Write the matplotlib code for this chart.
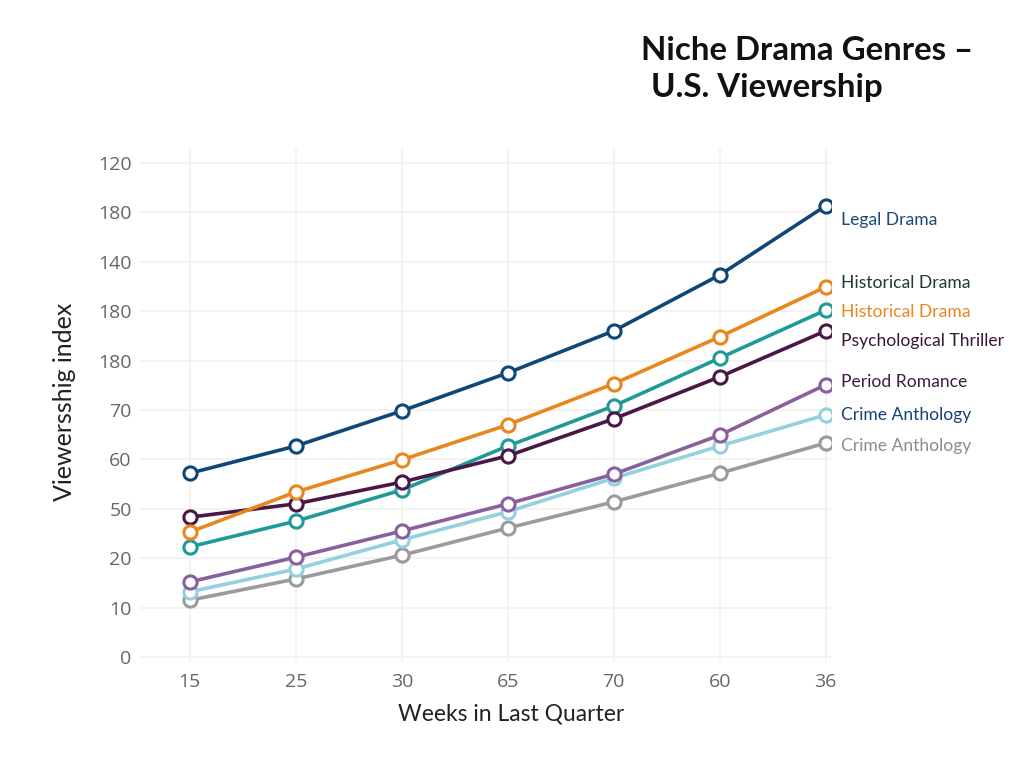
import matplotlib
matplotlib.use("Agg")
import matplotlib.pyplot as plt

# ---- data ----
x_labels = ["15", "25", "30", "65", "70", "60", "36"]
y_labels = ["0", "10", "20", "50", "60", "70", "180", "180", "140", "180", "120"]

legal_drama = [37.2, 42.7, 49.8, 57.5, 66.0, 77.3, 91.3]
historical_orange = [25.3, 33.4, 39.9, 47.0, 55.3, 64.8, 74.9]
historical_teal = [22.3, 27.5, 33.8, 42.7, 50.8, 60.5, 70.2]
psych_thriller = [28.3, 31.0, 35.4, 40.7, 48.2, 56.7, 66.0]
period_romance = [15.2, 20.2, 25.5, 31.0, 37.0, 44.9, 55.1]
crime_light = [13.2, 17.8, 23.7, 29.4, 36.2, 42.7, 49.0]
crime_gray = [11.5, 15.8, 20.6, 26.1, 31.4, 37.2, 43.3]

series = [
    (crime_gray, "#9b9b9b"),
    (crime_light, "#93d1de"),
    (period_romance, "#8a5f9e"),
    (historical_teal, "#1f9a96"),
    (psych_thriller, "#4b1747"),
    (historical_orange, "#e9871f"),
    (legal_drama, "#0f4878"),
]

labels = [
    ("Legal Drama", "#1b4878", 220),
    ("Historical Drama", "#1d3b2f", 283),
    ("Historical Drama", "#e9871f", 312),
    ("Psychological Thriller", "#3b1637", 341),
    ("Period Romance", "#3e1c44", 382),
    ("Crime Anthology", "#17407c", 415),
    ("Crime Anthology", "#8c8c8c", 446),
]

fig = plt.figure(figsize=(10.24, 7.68), dpi=100)
ax = fig.add_axes([140 / 1024, 1 - 662 / 768, 691 / 1024, (662 - 148) / 768])

xs = list(range(len(x_labels)))
for vals, col in series:
    ax.plot(xs, vals, color=col, lw=2.6, marker="o", ms=9.5,
            mfc="white", mec=col, mew=2.2, zorder=3, solid_capstyle="round")

ax.set_xlim(-0.47, 6.05)
ax.set_ylim(-1, 103)
ax.set_xticks(xs)
ax.set_xticklabels(x_labels)
ax.set_yticks([i * 10 for i in range(len(y_labels))])
ax.set_yticklabels(y_labels)
ax.tick_params(axis="y", length=0, labelsize=14, labelcolor="#666666", pad=6)
ax.tick_params(axis="x", length=0, labelsize=14, labelcolor="#666666", pad=8)
for t in ax.get_xticklabels() + ax.get_yticklabels():
    t.set_fontfamily("Open Sans")
ax.grid(True, color="#f1f1f1", lw=1.2)
ax.set_axisbelow(True)
for s in ax.spines.values():
    s.set_visible(False)

fig.text(511 / 1024, 1 - 714 / 768, "Weeks in Last Quarter", fontsize=16.5,
         family="Lato", color="#222222", ha="center", va="center")
fig.text(65 / 1024, 1 - 402 / 768, "Viewersshig index", fontsize=18,
         family="Lato", color="#222222", ha="center", va="center", rotation=90)

for text, col, ypx in labels:
    fig.text(841 / 1024, 1 - ypx / 768, text, color=col, fontsize=12.6,
             family="Lato", va="center", ha="left")

fig.text(641 / 1024, 1 - 50 / 768, "Niche Drama Genres –", fontsize=23.8,
         fontweight="bold", family="Lato", va="center", ha="left", color="#111111")
fig.text(651 / 1024, 1 - 88 / 768, "U.S. Viewership", fontsize=23.8,
         fontweight="bold", family="Lato", va="center", ha="left", color="#111111")

fig.savefig("out.png", dpi=100, facecolor="white")
